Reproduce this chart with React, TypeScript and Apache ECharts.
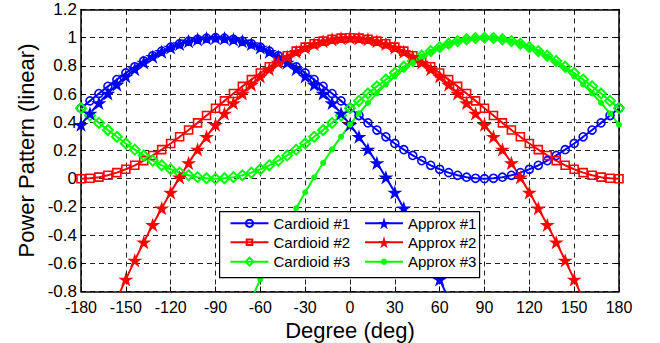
import { useEffect, useRef } from 'react';
import * as echarts from 'echarts';

const degrees = [-180, -174, -168, -162, -156, -150, -144, -138, -132, -126, -120, -114, -108, -102, -96, -90, -84, -78, -72, -66, -60, -54, -48, -42, -36, -30, -24, -18, -12, -6, 0, 6, 12, 18, 24, 30, 36, 42, 48, 54, 60, 66, 72, 78, 84, 90, 96, 102, 108, 114, 120, 126, 132, 138, 144, 150, 156, 162, 168, 174, 180];

const cardioid1 = [0.5, 0.552, 0.604, 0.655, 0.703, 0.75, 0.794, 0.835, 0.872, 0.905, 0.933, 0.957, 0.976, 0.989, 0.997, 1,
  0.997, 0.989, 0.976, 0.957, 0.933, 0.905, 0.872, 0.835, 0.794, 0.75, 0.703, 0.655, 0.604, 0.552, 0.5, 0.448, 0.396, 0.345, 0.297, 0.25, 0.206, 0.165, 0.128, 0.095, 0.067, 0.043, 0.024, 0.011, 0.003, 0,
  0.003, 0.011, 0.024, 0.043, 0.067, 0.095, 0.128, 0.165, 0.206, 0.25, 0.297, 0.345, 0.396, 0.448, 0.5];

const cardioid2 = [0, 0.003, 0.011, 0.024, 0.043, 0.067, 0.095, 0.128, 0.165, 0.206, 0.25, 0.297, 0.345, 0.396, 0.448, 0.5, 0.552, 0.604, 0.655, 0.703, 0.75, 0.794, 0.835, 0.872, 0.905, 0.933, 0.957, 0.976, 0.989, 0.997,
  1, 0.997, 0.989, 0.976, 0.957, 0.933, 0.905, 0.872, 0.835, 0.794, 0.75, 0.703, 0.655, 0.604, 0.552, 0.5, 0.448, 0.396, 0.345, 0.297, 0.25, 0.206, 0.165, 0.128, 0.095, 0.067, 0.043, 0.024, 0.011, 0.003, 0];

const cardioid3 = [0.5, 0.448, 0.396, 0.345, 0.297, 0.25, 0.206, 0.165, 0.128, 0.095, 0.067, 0.043, 0.024, 0.011, 0.003,
  0, 0.003, 0.011, 0.024, 0.043, 0.067, 0.095, 0.128, 0.165, 0.206, 0.25, 0.297, 0.345, 0.396, 0.448, 0.5, 0.552, 0.604, 0.655, 0.703, 0.75, 0.794, 0.835, 0.872, 0.905, 0.933, 0.957, 0.976, 0.989, 0.997,
  1, 0.997, 0.989, 0.976, 0.957, 0.933, 0.905, 0.872, 0.835, 0.794, 0.75, 0.703, 0.655, 0.604, 0.552, 0.5];

const approx1 = [0.383, 0.463, 0.537, 0.605, 0.668, 0.726, 0.778, 0.825, 0.866, 0.901, 0.931, 0.956, 0.975, 0.989, 0.997, 1,
  0.997, 0.989, 0.975, 0.956, 0.931, 0.901, 0.866, 0.825, 0.778, 0.726, 0.668, 0.605, 0.537, 0.463, 0.383, 0.298, 0.208, 0.112, 0.010, -0.097, -0.209, -0.327, -0.450, -0.579, -0.714, -0.853,
  null, null, null, null, null, null, null, null, null, null, null, null, null, null, null, null, null, null, null];

const approx2 = [null, null, null, null,
  -0.853, -0.714, -0.579, -0.450, -0.327, -0.209, -0.097, 0.010, 0.112, 0.208, 0.298, 0.383, 0.463, 0.537, 0.605, 0.668, 0.726, 0.778, 0.825, 0.866, 0.901, 0.931, 0.956, 0.975, 0.989, 0.997,
  1, 0.997, 0.989, 0.975, 0.956, 0.931, 0.901, 0.866, 0.825, 0.778, 0.726, 0.668, 0.605, 0.537, 0.463, 0.383, 0.298, 0.208, 0.112, 0.010, -0.097, -0.209, -0.327, -0.450, -0.579, -0.714, -0.853,
  null, null, null, null];

const approx3 = [null, null, null, null, null, null, null, null, null, null, null, null, null, null, null, null, null, null, null,
  -0.853, -0.714, -0.579, -0.450, -0.327, -0.209, -0.097, 0.010, 0.112, 0.208, 0.298, 0.383, 0.463, 0.537, 0.605, 0.668, 0.726, 0.778, 0.825, 0.866, 0.901, 0.931, 0.956, 0.975, 0.989, 0.997,
  1, 0.997, 0.989, 0.975, 0.956, 0.931, 0.901, 0.866, 0.825, 0.778, 0.726, 0.668, 0.605, 0.537, 0.463, 0.383];

const cardioidNames = ['Cardioid #1', 'Cardioid #2', 'Cardioid #3'];
const approxNames = ['Approx #1', 'Approx #2', 'Approx #3'];

const FONT = '"Liberation Sans", Arial, Helvetica, sans-serif';
const BLUE = '#0000ff';
const RED = '#ff0000';
const GREEN = '#00ff00';
const STAR = 'path://M100,0L122.45,69.1L195.1,69.1L136.3,111.8L158.8,180.9L100,138.2L41.2,180.9L63.7,111.8L4.9,69.1L77.55,69.1Z';

function pairs(values: (number | null)[]) {
  const out: number[][] = [];
  degrees.forEach((d, i) => {
    const v = values[i];
    if (v !== null && v !== undefined) out.push([d, v]);
  });
  return out;
}

function makeSeries(name: string, values: (number | null)[], color: string, symbol: string, size: number, hollow: boolean, border = 1.6) {
  return {
    type: 'line',
    name,
    data: pairs(values),
    symbol,
    symbolSize: size,
    symbolKeepAspect: true,
    clip: true,
    lineStyle: { color, width: 2 },
    itemStyle: hollow
      ? { color: 'rgba(255,255,255,0)', borderColor: color, borderWidth: border }
      : { color, borderWidth: 0 },
    emphasis: { disabled: true },
  };
}

function legendItem(name: string, left: number, centerY: number, iconH: number) {
  return {
    data: [name],
    orient: 'horizontal',
    left,
    top: centerY - 7.5,
    padding: 0,
    itemWidth: 38,
    itemHeight: iconH,
    selectedMode: false,
    z: 20,
    textStyle: { color: '#000', fontFamily: FONT, fontSize: 15 },
  };
}

export default function App() {
  const ref = useRef<HTMLDivElement>(null);
  useEffect(() => {
    if (!ref.current) return;
    const chart = echarts.init(ref.current, null, { renderer: 'svg' });
    const xText = { color: '#000', fontFamily: FONT, fontSize: 16, lineHeight: 16 };
    const yText = { color: '#000', fontFamily: FONT, fontSize: 17, lineHeight: 17 };
    const nameText = { color: '#000', fontFamily: FONT, fontSize: 21, lineHeight: 21 };
    const rows = [223.3, 242.3, 261.7];
    chart.setOption({
      animation: false,
      backgroundColor: '#fff',
      textStyle: { fontFamily: FONT },
      grid: { left: 81, right: 41, top: 9.5, bottom: 51.5, containLabel: false, outerBoundsMode: 'none' },
      xAxis: [
        {
          type: 'value', min: -180, max: 180, interval: 30,
          name: 'Degree (deg)', nameLocation: 'middle', nameGap: 28, nameMoveOverlap: false,
          nameTextStyle: { ...nameText, fontSize: 22, lineHeight: 21 },
          axisLine: { show: true, onZero: false, lineStyle: { color: '#000', width: 1.5 } },
          axisTick: { show: true, inside: true, length: 5, lineStyle: { color: '#000' } },
          axisLabel: { ...xText, margin: 8 },
          splitLine: { show: true, lineStyle: { color: '#222', width: 1, type: [5, 4] } },
        },
        {
          type: 'value', min: -180, max: 180, interval: 30, position: 'top',
          axisLine: { show: true, onZero: false, lineStyle: { color: '#000', width: 1.5 } },
          axisTick: { show: true, inside: true, length: 5, lineStyle: { color: '#000' } },
          axisLabel: { show: false },
          splitLine: { show: false },
        },
      ],
      yAxis: [
        {
          type: 'value', min: -0.8, max: 1.2, interval: 0.2,
          name: 'Power Pattern (linear)', nameLocation: 'middle', nameGap: 44, nameMoveOverlap: false,
          nameTextStyle: { ...nameText, fontSize: 22, lineHeight: 22 },
          axisLine: { show: true, onZero: false, lineStyle: { color: '#000', width: 1.5 } },
          axisTick: { show: true, inside: true, length: 5, lineStyle: { color: '#000' } },
          axisLabel: { ...yText, margin: 4 },
          splitLine: { show: true, lineStyle: { color: '#222', width: 1, type: [5, 4] } },
        },
        {
          type: 'value', min: -0.8, max: 1.2, interval: 0.2, position: 'right',
          axisLine: { show: true, onZero: false, lineStyle: { color: '#000', width: 1.5 } },
          axisTick: { show: true, inside: true, length: 5, lineStyle: { color: '#000' } },
          axisLabel: { show: false },
          splitLine: { show: false },
        },
      ],
      legend: [
        legendItem(cardioidNames[0], 229.5, rows[0], 9),
        legendItem(cardioidNames[1], 229.5, rows[1], 7),
        legendItem(cardioidNames[2], 229.5, rows[2], 10),
        legendItem(approxNames[0], 364, rows[0], 15),
        legendItem(approxNames[1], 364, rows[1], 15),
        legendItem(approxNames[2], 364, rows[2], 8),
      ],
      graphic: {
        z: 10,
        elements: [
          {
            type: 'rect', left: 219, top: 211, z: 10,
            shape: { width: 260, height: 66 },
            style: { fill: '#fff', stroke: '#000', lineWidth: 1.2 },
          },
        ],
      },
      series: [
        makeSeries(cardioidNames[0], cardioid1, BLUE, 'circle', 8, true, 1.6),
        makeSeries(cardioidNames[1], cardioid2, RED, 'rect', 8, true, 1.6),
        makeSeries(cardioidNames[2], cardioid3, GREEN, 'diamond', 10, true, 2),
        makeSeries(approxNames[0], approx1, BLUE, STAR, 15, false),
        makeSeries(approxNames[1], approx2, RED, STAR, 15, false),
        makeSeries(approxNames[2], approx3, GREEN, 'circle', 6, false),
      ],
    });
    return () => chart.dispose();
  }, []);
  return <div ref={ref} style={{ position: 'fixed', left: 0, top: 0, width: 660, height: 343 }} />;
}
